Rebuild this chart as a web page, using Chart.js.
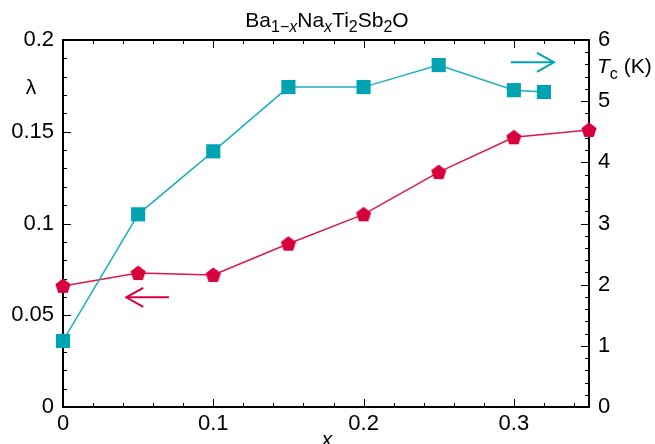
<!DOCTYPE html>
<html><head><meta charset="utf-8">
<script src="https://cdn.jsdelivr.net/npm/chart.js@4"></script>
<style>html,body{margin:0;padding:0;background:#fff}</style>
</head><body>
<canvas id="c" width="655" height="444"></canvas>
<script>
// ---- data ----
const xLambda = [0, 0.05, 0.1, 0.15, 0.2, 0.25, 0.3, 0.35];
const lambdaVals = [0.066, 0.073, 0.072, 0.089, 0.105, 0.128, 0.147, 0.151];
const xTc = [0, 0.05, 0.1, 0.15, 0.2, 0.25, 0.3, 0.32];
const tcVals = [1.08, 3.15, 4.18, 5.23, 5.23, 5.59, 5.18, 5.15];
const xTicks = [0, 0.1, 0.2, 0.3];
const xTickLabels = ['0', '0.1', '0.2', '0.3'];
const yTicks = [0, 0.05, 0.1, 0.15, 0.2];
const yTickLabels = ['0', '0.05', '0.1', '0.15', '0.2'];
const y2Ticks = [0, 1, 2, 3, 4, 5, 6];
const y2TickLabels = ['0', '1', '2', '3', '4', '5', '6'];

const RED = '#d6003c';
const TEAL = '#00a3b2';
const FONT = '"Liberation Sans", Arial, sans-serif';

function pentagon(R, color) {
  const s = 20;
  const c = document.createElement('canvas');
  c.width = s; c.height = s;
  const g = c.getContext('2d');
  g.fillStyle = color;
  g.beginPath();
  for (let i = 0; i < 5; i++) {
    const a = -Math.PI / 2 + i * 2 * Math.PI / 5;
    const px = s / 2 + R * Math.cos(a), py = s / 2 + 0.6 + R * Math.sin(a);
    i ? g.lineTo(px, py) : g.moveTo(px, py);
  }
  g.closePath(); g.fill();
  return c;
}

const framePlugin = {
  id: 'frame',
  beforeDatasetsDraw(chart) {
    const ctx = chart.ctx, a = chart.chartArea;
    const sx = chart.scales.x, sy = chart.scales.y, sy2 = chart.scales.y2;
    ctx.save();
    ctx.strokeStyle = '#000';
    ctx.lineWidth = 1;
    const tick = (x1, y1, x2, y2) => { ctx.beginPath(); ctx.moveTo(x1, y1); ctx.lineTo(x2, y2); ctx.stroke(); };
    for (let i = 0; i <= 17; i++) {
      const v = i * 0.02;
      const px = Math.round(sx.getPixelForValue(v)) + 0.5;
      const L = i % 5 === 0 ? 8 : 4;
      tick(px, a.bottom, px, a.bottom - L);
      tick(px, a.top, px, a.top + L);
    }
    for (let i = 0; i <= 20; i++) {
      const v = i * 0.01;
      const py = Math.round(sy.getPixelForValue(v)) + 0.5;
      const L = i % 5 === 0 ? 8 : 4;
      tick(a.left, py, a.left + L, py);
    }
    for (let i = 0; i <= 30; i++) {
      const v = i * 0.2;
      const py = Math.round(sy2.getPixelForValue(v)) + 0.5;
      const L = i % 5 === 0 ? 8 : 4;
      tick(a.right, py, a.right - L, py);
    }
    ctx.lineWidth = 2;
    ctx.strokeRect(a.left, a.top, a.right - a.left, a.bottom - a.top);
    ctx.restore();
  },
  afterDraw(chart) {
    const ctx = chart.ctx;
    const sx = chart.scales.x, sy = chart.scales.y, sy2 = chart.scales.y2;
    ctx.save();
    ctx.fillStyle = '#000';
    ctx.textBaseline = 'alphabetic';
    const big = '21px ' + FONT, small = '16px ' + FONT;
    const smallI = 'italic 16px ' + FONT;
    const parts = [
      ['Ba', big, 0], ['1\u2212', small, 1], ['x', smallI, 1], ['Na', big, 0], ['x', smallI, 1],
      ['Ti', big, 0], ['2', small, 1], ['Sb', big, 0], ['2', small, 1], ['O', big, 0]
    ];
    let w = 0;
    parts.forEach(p => { ctx.font = p[1]; w += ctx.measureText(p[0]).width; });
    let x = 327 - w / 2;
    const base = 27;
    parts.forEach(p => { ctx.font = p[1]; ctx.fillText(p[0], x, base + (p[2] ? 5 : 0)); x += ctx.measureText(p[0]).width; });
    ctx.font = 'italic 21px ' + FONT;
    ctx.textAlign = 'center';
    ctx.fillText('x', 327, 446);
    ctx.font = '21px ' + FONT;
    ctx.fillText('\u03bb', 31, 94);
    ctx.textAlign = 'left';
    ctx.font = 'italic 21px ' + FONT;
    ctx.fillText('T', 597, 73);
    let tx = 597 + ctx.measureText('T').width;
    ctx.font = '16px ' + FONT;
    ctx.fillText('c', tx, 79);
    tx += ctx.measureText('c').width + 6;
    ctx.font = '21px ' + FONT;
    ctx.fillText('(K)', tx, 73);
    const arrow = (x1, y1, x2, y2, color) => {
      ctx.strokeStyle = color; ctx.lineWidth = 2;
      ctx.beginPath(); ctx.moveTo(x1, y1); ctx.lineTo(x2, y2); ctx.stroke();
      const dir = Math.sign(x2 - x1);
      ctx.beginPath();
      ctx.moveTo(x2 - dir * 17, y2 - 9.5); ctx.lineTo(x2, y2); ctx.lineTo(x2 - dir * 17, y2 + 9.5);
      ctx.stroke();
    };
    arrow(sx.getPixelForValue(0.0705), sy.getPixelForValue(0.0598), sx.getPixelForValue(0.0421), sy.getPixelForValue(0.0598), RED);
    arrow(sx.getPixelForValue(0.298), sy2.getPixelForValue(5.635), sx.getPixelForValue(0.3267), sy2.getPixelForValue(5.635), TEAL);
    ctx.restore();
  }
};

const tickFont = { family: FONT, size: 22 };
new Chart(document.getElementById('c'), {
  type: 'line',
  data: {
    datasets: [
      {
        label: 'Tc', yAxisID: 'y2',
        data: xTc.map((v, i) => ({ x: v, y: tcVals[i] })),
        borderColor: '#1db0bf', borderWidth: 1.5, backgroundColor: TEAL,
        pointStyle: 'rect', pointRadius: 10, pointBorderWidth: 0, pointBackgroundColor: TEAL,
        clip: false, tension: 0
      },
      {
        label: 'lambda', yAxisID: 'y',
        data: xLambda.map((v, i) => ({ x: v, y: lambdaVals[i] })),
        borderColor: '#e0164a', borderWidth: 1.5, backgroundColor: RED,
        pointStyle: pentagon(8, RED), pointRadius: 8, pointBorderWidth: 0,
        clip: false, tension: 0
      }
    ]
  },
  options: {
    responsive: false, animation: false, devicePixelRatio: 1,
    layout: { padding: { top: 40, left: 0, right: 0, bottom: 0 } },
    plugins: { legend: { display: false }, tooltip: { enabled: false }, title: { display: false } },
    scales: {
      x: {
        type: 'linear', min: 0, max: 0.35,
        grid: { display: false, drawTicks: false }, border: { display: false },
        afterBuildTicks: s => { s.ticks = xTicks.map(v => ({ value: v })); },
        afterFit: s => { s.height = 37; },
        ticks: { color: '#000', font: tickFont, padding: 4, maxRotation: 0, autoSkip: false,
                 callback: (v, i) => xTickLabels[i] }
      },
      y: {
        type: 'linear', position: 'left', min: 0, max: 0.2,
        grid: { display: false, drawTicks: false }, border: { display: false },
        afterBuildTicks: s => { s.ticks = yTicks.map(v => ({ value: v })); },
        afterFit: s => { s.width = 63; },
        ticks: { color: '#000', font: tickFont, padding: 9, autoSkip: false,
                 callback: (v, i) => yTickLabels[i] }
      },
      y2: {
        type: 'linear', position: 'right', min: 0, max: 6,
        grid: { display: false, drawTicks: false }, border: { display: false },
        afterBuildTicks: s => { s.ticks = y2Ticks.map(v => ({ value: v })); },
        afterFit: s => { s.width = 66; },
        ticks: { color: '#000', font: tickFont, padding: 9, autoSkip: false,
                 callback: (v, i) => y2TickLabels[i] }
      }
    }
  },
  plugins: [framePlugin]
});
</script>
</body></html>
